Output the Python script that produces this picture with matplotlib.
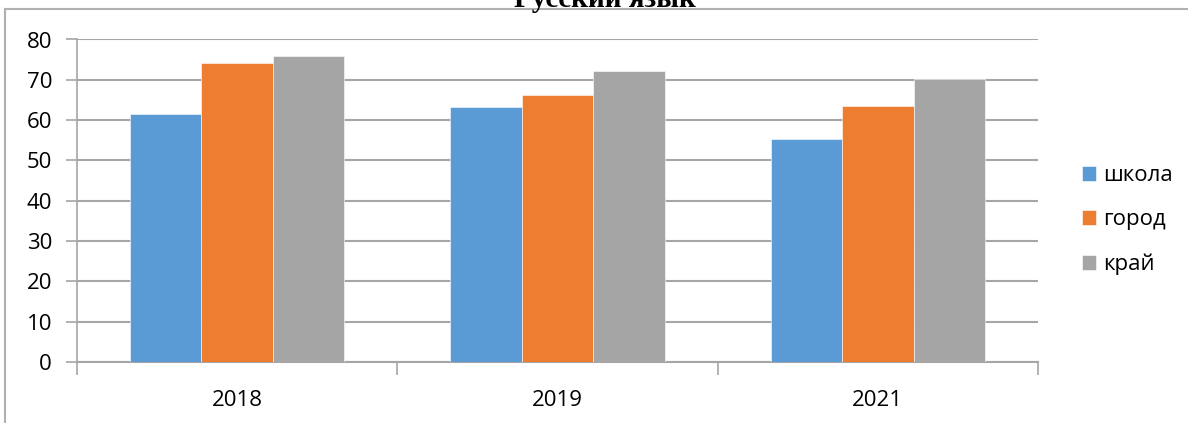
import matplotlib.pyplot as plt
from matplotlib.lines import Line2D
import numpy as np

# data
years = ["2018", "2019", "2021"]
school = [61.6, 63.2, 55.3]
city = [74.2, 66.3, 63.6]
region = [75.8, 72.2, 70.1]

series_names = ["школа", "город", "край"]
COLORS = ["#5B9BD5", "#ED7D31", "#A5A5A5"]
GRID = "#A6A6A6"

plt.rcParams["font.family"] = ["Open Sans", "DejaVu Sans"]

W, H = 1188, 423
fig = plt.figure(figsize=(W / 100, H / 100), dpi=100)
ax = fig.add_axes([77 / W, 1 - 362 / H, (1038 - 77) / W, (362 - 39.5) / H])

x = np.arange(len(years))
width = 0.223
for i, (vals, name) in enumerate(zip([school, city, region], series_names)):
    ax.bar(x + (i - 1) * width, vals, width, color=COLORS[i], label=name,
           edgecolor="white", linewidth=0.4, zorder=3)

ax.set_xlim(-0.5, 2.5)
ax.set_ylim(0, 80)
ax.set_yticks(range(0, 81, 10))
ax.yaxis.grid(True, color=GRID, linewidth=1.5, zorder=0)
ax.set_axisbelow(True)

ax.set_xticks(x)
ax.set_xticklabels(years)
ax.set_xticks([-0.5, 0.5, 1.5, 2.5], minor=True)
ax.tick_params(axis="x", which="major", length=0, labelsize=16, pad=20)
ax.tick_params(axis="x", which="minor", length=9, color=GRID, width=1.2)
ax.tick_params(axis="y", length=8, color=GRID, width=1.2, labelsize=16, pad=10)

for s in ["top", "right"]:
    ax.spines[s].set_visible(False)
ax.spines["left"].set_color(GRID)
ax.spines["bottom"].set_color(GRID)
ax.spines["left"].set_linewidth(1.2)
ax.spines["bottom"].set_linewidth(1.5)

ax.legend(loc="center left", bbox_to_anchor=(1.0458, 0.44), frameon=False,
          fontsize=16, handlelength=0.65, handleheight=0.65,
          handletextpad=0.3, labelspacing=1.05, borderpad=0, borderaxespad=0)

# outer chart frame (top and left edges visible)
fig.add_artist(Line2D([4.5 / W, 1], [1 - 9.5 / H, 1 - 9.5 / H],
                      transform=fig.transFigure, color="#B0B0B0", linewidth=1.5))
fig.add_artist(Line2D([4.5 / W, 4.5 / W], [0, 1 - 9.5 / H],
                      transform=fig.transFigure, color="#B0B0B0", linewidth=1.5))

# title, cut off at the top as in the reference
fig.text(605 / W, 1 - 7 / H, "Русский язык", ha="center", va="baseline",
         fontsize=21, fontweight="bold", family=["Liberation Serif", "DejaVu Serif"])

fig.savefig("out.png", dpi=100)
